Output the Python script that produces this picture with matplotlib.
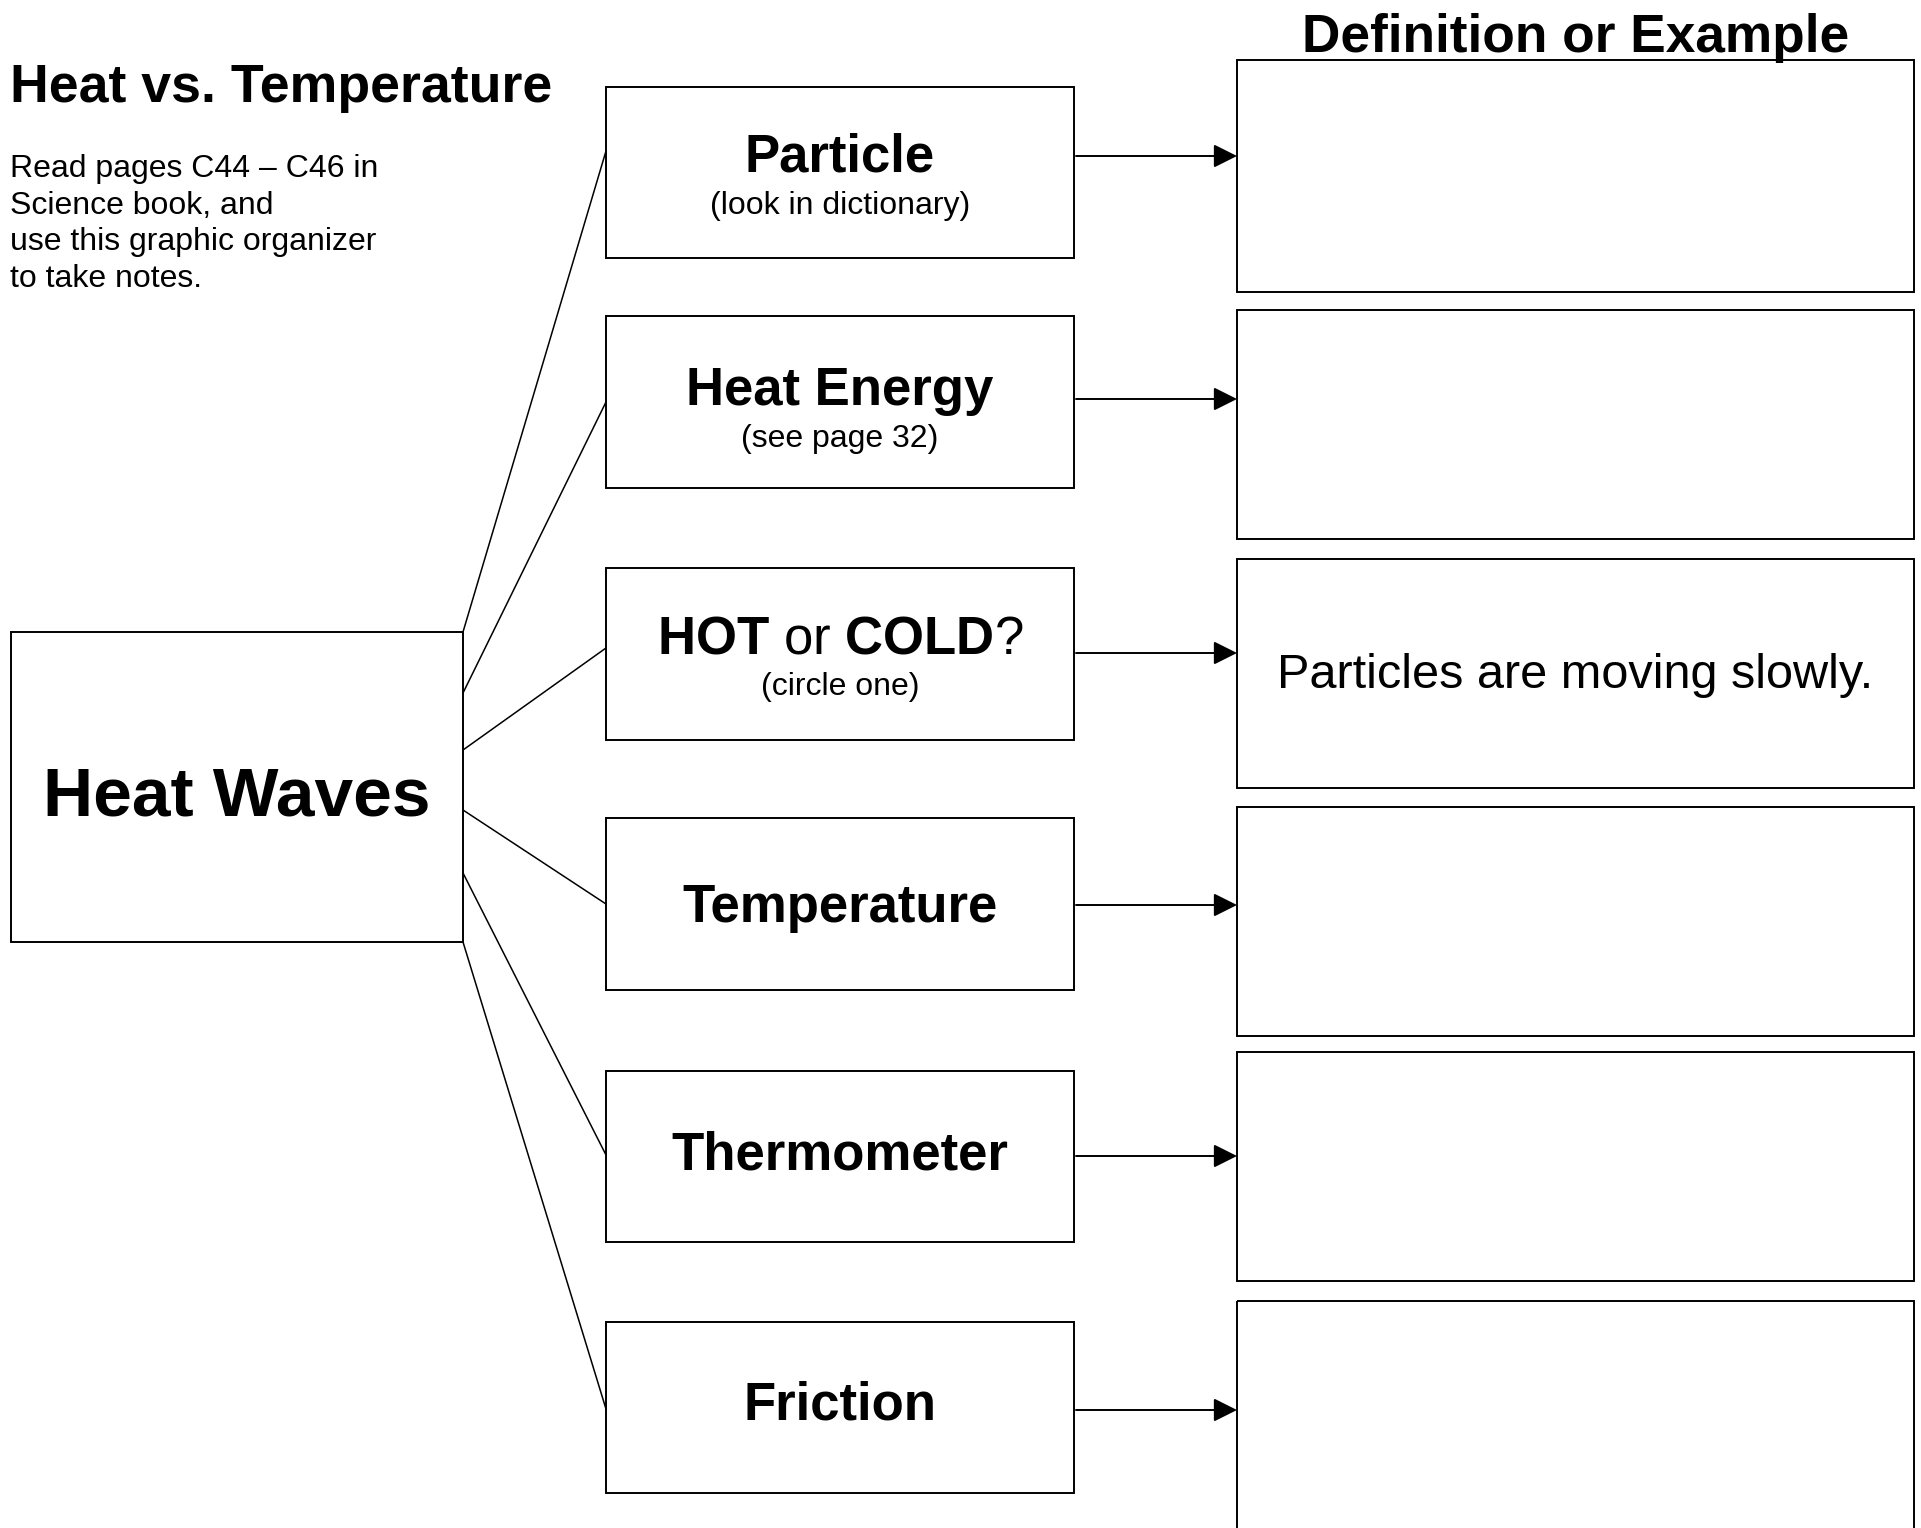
import matplotlib
matplotlib.use("Agg")
import matplotlib.pyplot as plt
from matplotlib.patches import Rectangle

plt.rcParams['font.family'] = ['Liberation Sans', 'DejaVu Sans']
plt.rcParams['mathtext.fontset'] = 'custom'
plt.rcParams['mathtext.rm'] = 'Liberation Sans'
plt.rcParams['mathtext.bf'] = 'Liberation Sans:bold'

# 文本内容
title = "Heat vs. Temperature"
column_title = "Definition or Example"
intro_lines = ["Read pages C44 \u2013 C46 in", "Science book, and",
               "use this graphic organizer", "to take notes."]
center_label = "Heat Waves"
terms = ["Particle", "Heat Energy", r"$\mathbf{HOT}$ or $\mathbf{COLD}$?",
         "Temperature", "Thermometer", "Friction"]
hints = ["(look in dictionary)", "(see page 32)", "(circle one)", "", "", ""]
answers = ["", "", "Particles are moving slowly.", "", "", ""]

# 版面（像素）
W, H = 1921, 1528
hub_box = (11, 632, 463, 942)
term_x = (606, 1074)
term_tops = [87, 316, 568, 818, 1071, 1322]
term_bottoms = [258, 488, 740, 990, 1242, 1493]
term_baselines = [172, 405, 654, 922, 1170, 1420]
hint_baselines = [214, 447, 695, None, None, None]
def_x = (1237, 1914)
def_tops = [60, 310, 559, 807, 1052, 1301]
def_bottoms = [292, 539, 788, 1036, 1281, 1560]
hub_out_y = [632, 693, 750, 810, 873, 942]
term_in_y = [151, 402, 648, 904, 1155, 1409]
arrow_y = [156, 399, 653, 905, 1156, 1410]

fig = plt.figure(figsize=(W / 100, H / 100), dpi=100)
ax = fig.add_axes([0, 0, 1, 1])
ax.set_xlim(0, W)
ax.set_ylim(H, 0)
ax.axis('off')

BOX_LW = 1.4


def box(x0, y0, x1, y1):
    ax.add_patch(Rectangle((x0, y0), x1 - x0, y1 - y0, fill=False,
                           edgecolor='black', lw=BOX_LW, joinstyle='miter'))


# 标题和说明
ax.text(10, 102, title, fontsize=38.6, fontweight='bold', va='baseline', ha='left')
ax.text((def_x[0] + def_x[1]) / 2, 52, column_title, fontsize=38.3,
        fontweight='bold', va='baseline', ha='center')
for i, line in enumerate(intro_lines):
    ax.text(10, 177 + i * 36.6, line, fontsize=23, va='baseline', ha='left')

# 中心框
box(*hub_box)
ax.text((hub_box[0] + hub_box[2]) / 2, 815, center_label, fontsize=50,
        fontweight='bold', va='baseline', ha='center')

# 连线
for y0, y1 in zip(hub_out_y, term_in_y):
    ax.plot([hub_box[2], term_x[0]], [y0, y1], color='black', lw=1.1,
            solid_capstyle='butt')

cx = (term_x[0] + term_x[1]) / 2
dx = (def_x[0] + def_x[1]) / 2
for i in range(len(terms)):
    top, bot = term_tops[i], term_bottoms[i]
    box(term_x[0], top, term_x[1], bot)
    weight = 'normal' if terms[i].startswith('$') else 'bold'
    ax.text(cx, term_baselines[i], terms[i], fontsize=38, fontweight=weight,
            va='baseline', ha='center')
    if hints[i]:
        ax.text(cx, hint_baselines[i], hints[i], fontsize=23, va='baseline', ha='center')

    # 箭头
    ax.annotate('', xy=(def_x[0], arrow_y[i]), xytext=(term_x[1] + 2, arrow_y[i]),
                arrowprops=dict(arrowstyle='-|>,head_length=0.8,head_width=0.4',
                                mutation_scale=18, lw=1.4, color='black',
                                shrinkA=0, shrinkB=0))

    # 右侧框
    box(def_x[0], def_tops[i], def_x[1], def_bottoms[i])
    if answers[i]:
        ax.text(dx, (def_tops[i] + def_bottoms[i]) / 2 + 14, answers[i],
                fontsize=35, va='baseline', ha='center')

fig.savefig("out.png", dpi=100, facecolor='white')
